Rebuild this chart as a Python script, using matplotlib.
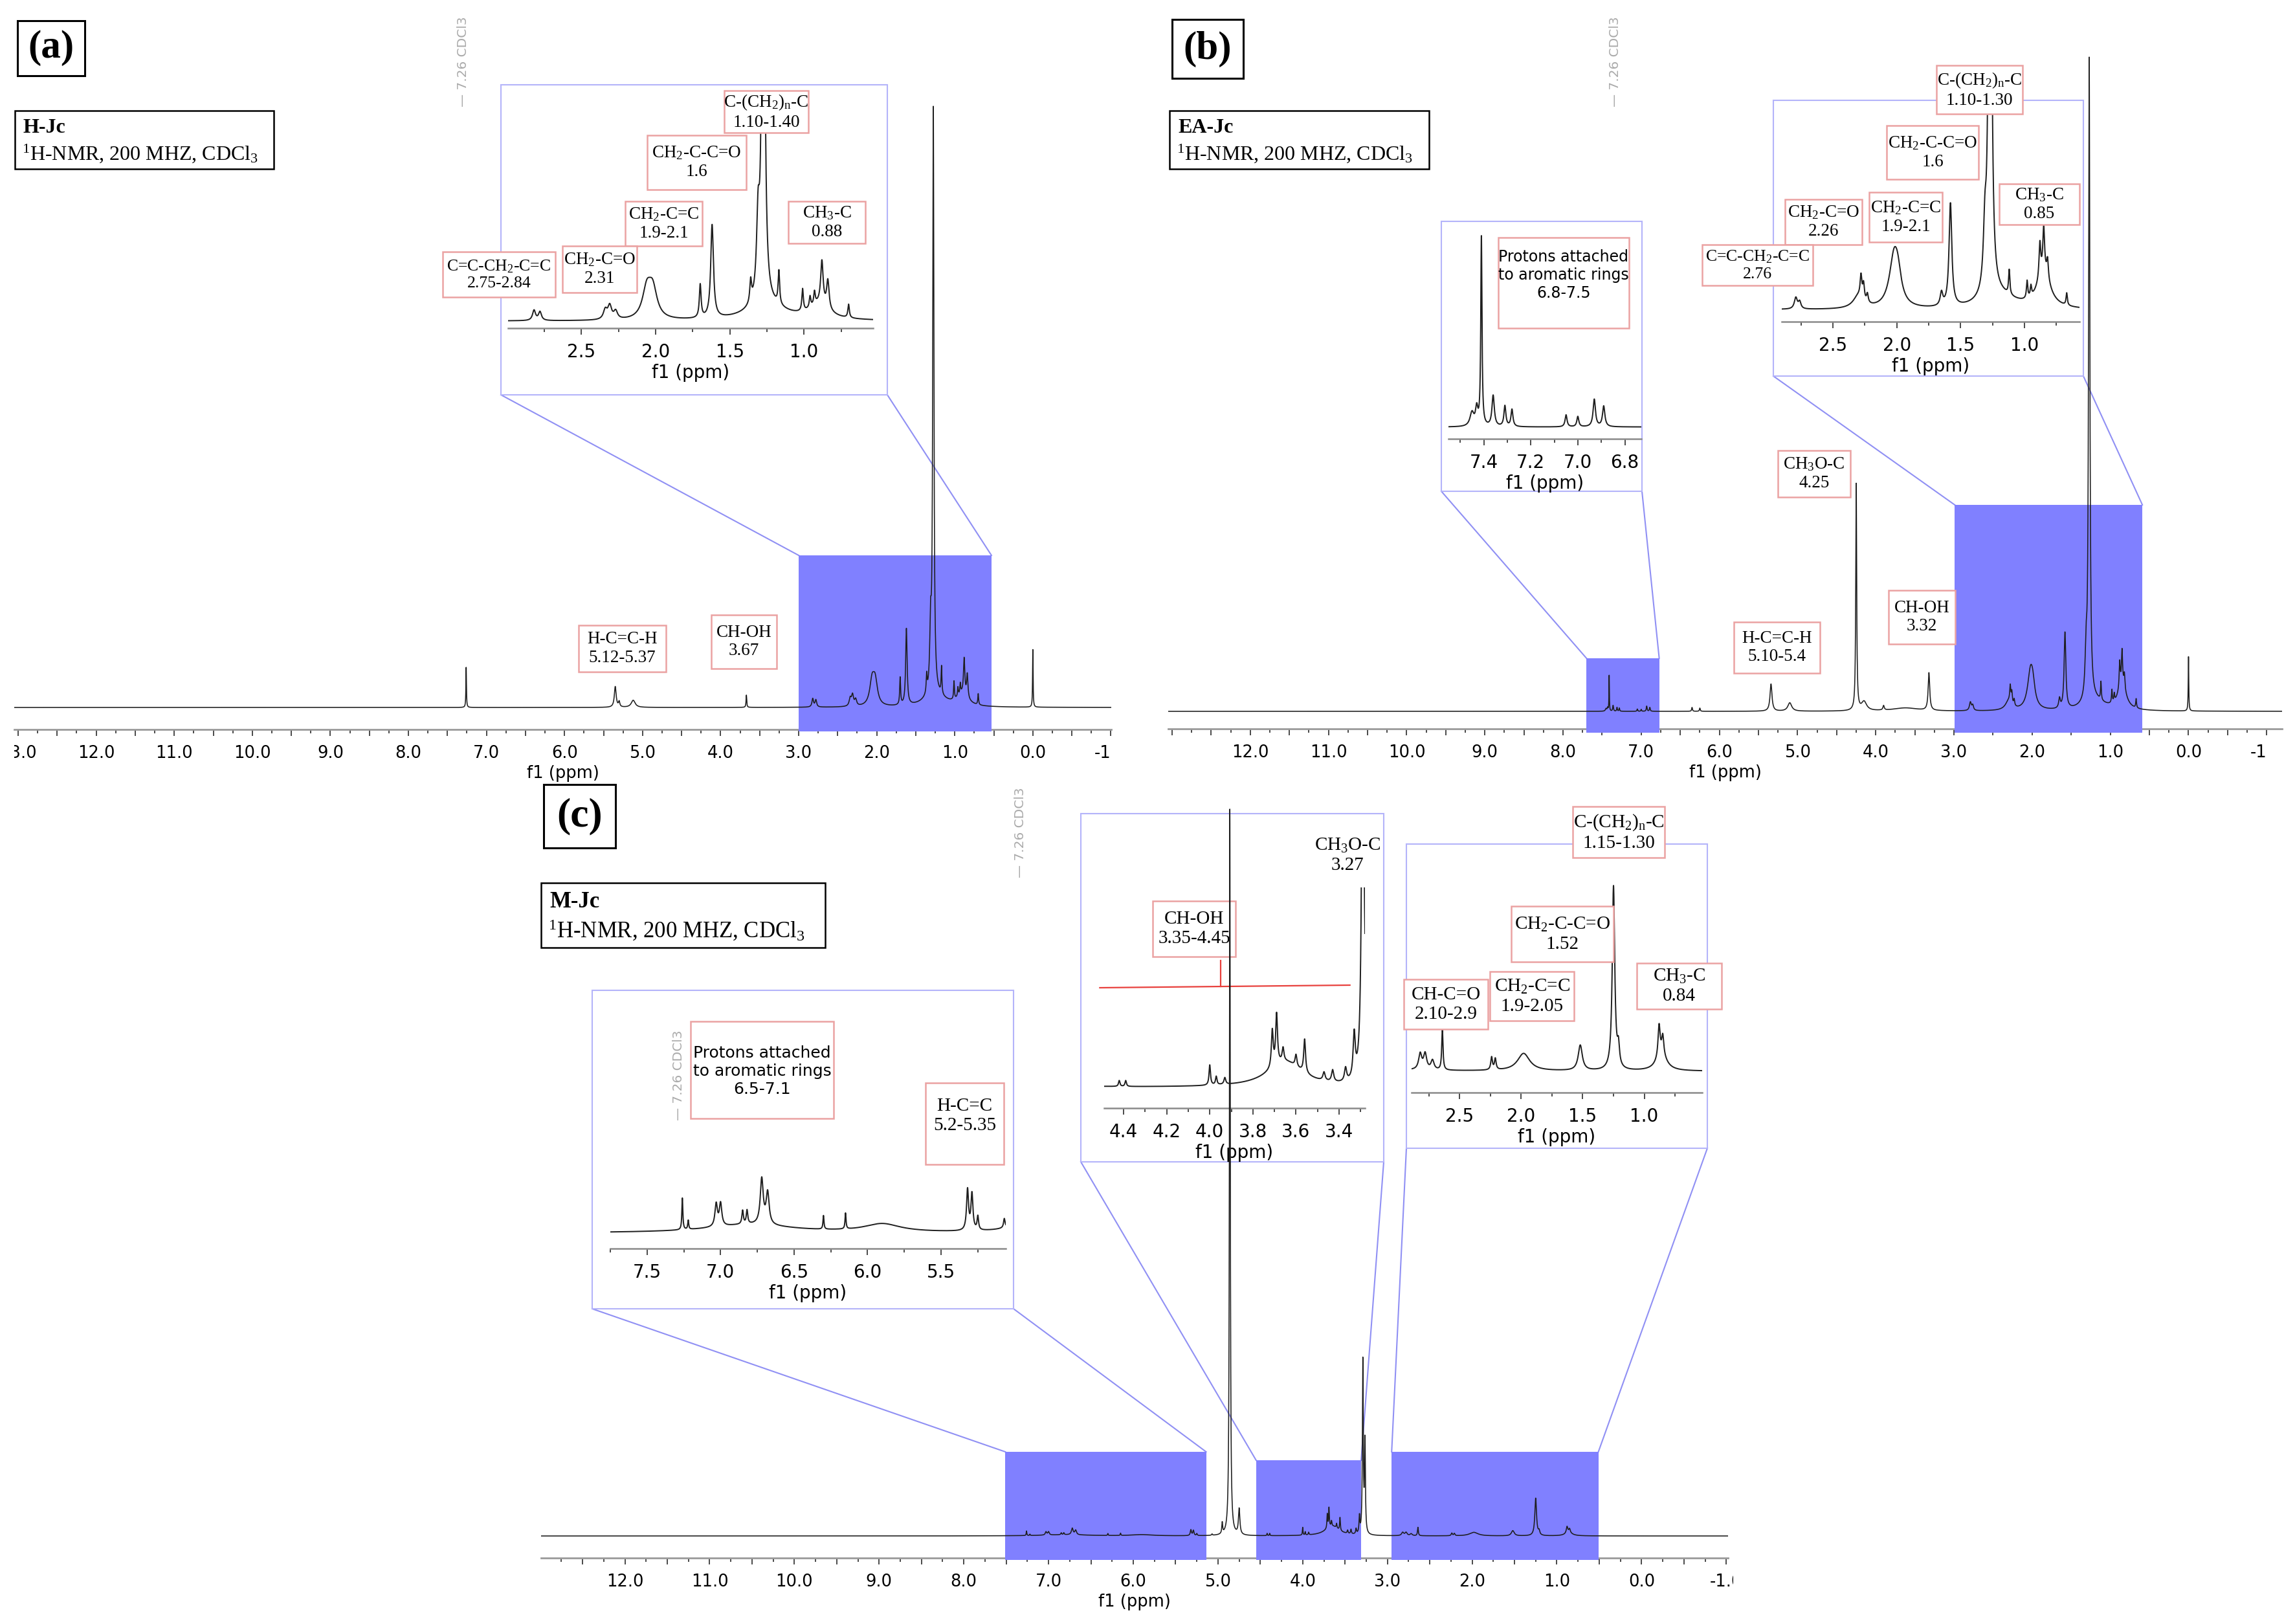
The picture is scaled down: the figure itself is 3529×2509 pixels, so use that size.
import numpy as np
import matplotlib.pyplot as plt
from matplotlib.patches import Rectangle
from matplotlib.lines import Line2D
from matplotlib.ticker import MultipleLocator, FuncFormatter
from matplotlib.transforms import Bbox, TransformedBbox, blended_transform_factory

plt.rcParams['mathtext.fontset'] = 'custom'
plt.rcParams['mathtext.rm'] = 'Liberation Serif'
plt.rcParams['mathtext.it'] = 'Liberation Serif:italic'
plt.rcParams['mathtext.bf'] = 'Liberation Serif:bold'

W, H = 3530, 2509
fig = plt.figure(figsize=(W / 100, H / 100), dpi=100)

SERIF = 'Liberation Serif'
SANS = 'DejaVu Sans'
LINE = '#1e1e1e'
HILITE = '#8080ff'
FRAME = '#b4b4fa'
LINK = '#9090f4'
LABEL_EDGE = '#eba2a2'
GREY = '#ababab'

# ---------------- data ----------------
# peaks: centre (ppm), intensity (a.u.), half width (ppm)

# (a) H-Jc
a_ppm = [7.26, 5.35, 5.30, 5.12, 3.67, 2.82, 2.78, 2.34, 2.31, 2.27, 2.06, 2.02,
         1.70, 1.62, 1.36, 1.31, 1.275, 1.25, 1.17, 1.01, 0.96, 0.93, 0.88, 0.84,
         0.90, 0.70, 0.00]
a_height = [62, 32, 8, 11, 19, 13, 11, 12, 17, 10, 36, 36,
            42, 118, 28, 95, 900, 18, 42, 28, 14, 16, 55, 36,
            18, 17, 89]
a_width = [0.004, 0.014, 0.010, 0.030, 0.005, 0.012, 0.012, 0.015, 0.015, 0.015, 0.035, 0.035,
           0.007, 0.011, 0.007, 0.012, 0.009, 0.150, 0.006, 0.006, 0.006, 0.006, 0.010, 0.010,
           0.080, 0.006, 0.004]

# (b) EA-Jc
b_ppm = [7.45, 7.43, 7.41, 7.36, 7.31, 7.28, 7.05, 7.00, 6.93, 6.89, 6.35, 6.25,
         5.34, 5.10, 4.25, 4.15, 3.90, 3.62, 3.32, 2.79, 2.76, 2.30, 2.28, 2.26,
         2.23, 2.02, 1.99, 1.65, 1.58, 1.31, 1.27, 1.20, 1.12, 0.98, 0.95, 0.88,
         0.85, 0.85, 0.82, 0.67, 0.00]
b_height = [4, 5, 55, 9, 6, 5, 3.5, 3, 8, 6, 6, 5,
            42, 13, 350, 14, 7, 5, 58, 13, 8, 14, 25, 18,
            10, 60, 20, 15, 118, 65, 990, 15, 28, 20, 12, 40,
            50, 40, 22, 14, 84]
b_width = [0.010, 0.006, 0.003, 0.006, 0.005, 0.005, 0.005, 0.005, 0.006, 0.006, 0.006, 0.006,
           0.015, 0.030, 0.007, 0.040, 0.010, 0.200, 0.012, 0.014, 0.012, 0.050, 0.008, 0.008,
           0.008, 0.045, 0.030, 0.012, 0.013, 0.014, 0.010, 0.150, 0.006, 0.006, 0.006, 0.008,
           0.008, 0.060, 0.008, 0.006, 0.004]

# (c) M-Jc
c_ppm = [7.26, 7.22, 7.03, 7.00, 6.85, 6.82, 6.72, 6.68, 6.80, 6.30, 6.15, 5.90,
         5.32, 5.29, 5.25, 5.07, 4.95, 4.86, 4.75, 4.42, 4.39, 4.00, 3.97, 3.93,
         3.65, 3.71, 3.69, 3.66, 3.60, 3.56, 3.47, 3.43, 3.37, 3.33, 3.29, 3.265,
         2.82, 2.78, 2.72, 2.64, 2.24, 2.21, 1.98, 1.52, 1.25, 1.21, 0.88, 0.85, 0.86]
c_height = [7, 2, 5, 5, 3, 3, 10, 7, 1.8, 3, 3.5, 1.8,
            9, 8, 3, 2, 17, 1123, 40, 3.5, 3.5, 12, 5, 4,
            15, 22, 30, 8, 7, 20, 5, 7, 8, 26, 267, 140,
            5, 5, 3, 13, 4, 3.5, 5.5, 8, 58, 6, 10, 6, 5]
c_width = [0.004, 0.004, 0.010, 0.010, 0.006, 0.006, 0.012, 0.012, 0.350, 0.004, 0.004, 0.150,
           0.008, 0.008, 0.006, 0.006, 0.006, 0.006, 0.010, 0.004, 0.004, 0.004, 0.004, 0.005,
           0.100, 0.005, 0.005, 0.005, 0.005, 0.005, 0.006, 0.006, 0.006, 0.006, 0.006, 0.006,
           0.015, 0.015, 0.015, 0.006, 0.008, 0.008, 0.060, 0.020, 0.012, 0.010, 0.010, 0.010, 0.050]

# expanded ranges (highlighted on the full spectrum) and inset windows
a_zoom = [(3.00, 0.53)]
a_inset = [(2.995, 0.535)]
b_zoom = [(7.70, 6.77), (2.99, 0.59)]
b_inset = [(7.55, 6.73), (2.90, 0.57)]
c_zoom = [(7.51, 5.14), (4.55, 3.31), (2.95, 0.51)]
c_inset = [(7.75, 5.06), (4.49, 3.28), (2.89, 0.53)]
c_integral = (4.51, 3.35)


def lorentz_sum(x, ppm, height, width):
    p = np.asarray(ppm, float)[:, None]
    h = np.asarray(height, float)[:, None]
    w = np.asarray(width, float)[:, None]
    return (h * w ** 2 / ((x[None, :] - p) ** 2 + w ** 2)).sum(axis=0)


def fx(px):
    return px / W


def fy(py):
    return 1 - py / H


def add_px_axes(x0, y0, x1, y1, z):
    ax = fig.add_axes([x0 / W, 1 - y1 / H, (x1 - x0) / W, (y1 - y0) / H], zorder=z)
    ax.patch.set_visible(False)
    for s in ('left', 'right', 'top'):
        ax.spines[s].set_visible(False)
    ax.set_yticks([])
    return ax


def style_x(ax, major, minor, size, every=None, spine_c='#9a9a9a', spine_w=2.0,
            pad=10.5, labelpad=3.5):
    ax.spines['bottom'].set_color(spine_c)
    ax.spines['bottom'].set_linewidth(spine_w)
    ax.xaxis.set_major_locator(MultipleLocator(major))
    ax.xaxis.set_minor_locator(MultipleLocator(minor))
    if every:
        ax.xaxis.set_major_formatter(FuncFormatter(
            lambda v, p: f'{v:.1f}' if abs(v / every - round(v / every)) < 1e-6 else ''))
    else:
        ax.xaxis.set_major_formatter(FuncFormatter(lambda v, p: f'{v:.1f}'))
    ax.tick_params(axis='x', which='major', direction='out', length=7, width=1.4,
                   color='#4a4a4a', labelsize=size, pad=pad)
    ax.tick_params(axis='x', which='minor', direction='out', length=4.3, width=1.4,
                   color='#4a4a4a')
    for t in ax.get_xticklabels():
        t.set_family(SANS)
    ax.set_xlabel('f1 (ppm)', fontsize=size, family=SANS, labelpad=labelpad)


def clip_labels(ax, left, right):
    box = TransformedBbox(Bbox.from_extents(left / W, 0, right / W, 1), fig.transFigure)
    for t in ax.xaxis.get_major_ticks():
        t.label1.set_clip_box(box)
        t.label1.set_clip_on(True)


def main_panel(x0, ppp, xlim, top, spine, base, ppm, height, width, clip, z=3):
    x1 = x0 + (xlim[0] - xlim[1]) * ppp
    ax = add_px_axes(x0, top, x1, spine, z)
    x = np.linspace(xlim[0], xlim[1], 40000)
    ax.plot(x, lorentz_sum(x, ppm, height, width), color=LINE, lw=1.15, zorder=3)
    ax.set_xlim(*xlim)
    ax.set_ylim(-(spine - base), base - top)
    style_x(ax, 0.5, 0.25, 18.5, every=1.0)
    clip_labels(ax, *clip)
    return ax


def highlight(ax, rng, top, bottom):
    tr = blended_transform_factory(ax.transData, fig.transFigure)
    hi, lo = rng
    ax.add_patch(Rectangle((lo, fy(bottom)), hi - lo, fy(top) - fy(bottom), transform=tr,
                           fc=HILITE, ec='none', zorder=2.6, clip_on=False))
    xl = ax.transData.transform([[hi, 0]])[0, 0]
    xr = ax.transData.transform([[lo, 0]])[0, 0]
    return xl, xr


def inset(frame, box, xlim, base, scale, major, minor, ppm, height, width):
    fx0, fy0, fx1, fy1 = frame
    fig.add_artist(Rectangle((fx(fx0), fy(fy1)), fx(fx1) - fx(fx0), fy(fy0) - fy(fy1),
                             transform=fig.transFigure, fc='white', ec=FRAME, lw=1.5, zorder=1))
    x0, top, x1, spine = box
    ax = add_px_axes(x0, top, x1, spine, 2)
    x = np.linspace(xlim[0], xlim[1], 8000)
    ax.plot(x, lorentz_sum(x, ppm, height, width), color=LINE, lw=1.4)
    ax.set_xlim(*xlim)
    ax.set_ylim(-(spine - base) / scale, (base - top) / scale)
    style_x(ax, major, minor, 20, spine_c='#8a8a8a', spine_w=1.8, pad=9.5, labelpad=3.0)
    return ax


def connect(frame, xl, xr, top):
    fx0, fy0, fx1, fy1 = frame
    for a, b in ((fx0, xl), (fx1, xr)):
        fig.add_artist(Line2D([fx(a), fx(b)], [fy(fy1), fy(top)], transform=fig.transFigure,
                              color=LINK, lw=1.5, zorder=0.5))


def label(x0, y0, x1, y1, text, size, family=SERIF, dy=0, boxed=True):
    if boxed:
        fig.add_artist(Rectangle((fx(x0), fy(y1)), fx(x1) - fx(x0), fy(y0) - fy(y1),
                                 transform=fig.transFigure, fc='white', ec=LABEL_EDGE,
                                 lw=1.8, zorder=4))
    fig.text(fx((x0 + x1) / 2), fy((y0 + y1) / 2 + dy), text, ha='center', va='center',
             fontsize=size, family=family, zorder=4.5, linespacing=1.2)


def panel_tag(x0, y0, x1, y1, tag, size):
    fig.add_artist(Rectangle((fx(x0), fy(y1)), fx(x1) - fx(x0), fy(y0) - fy(y1),
                             transform=fig.transFigure, fc='white', ec='black', lw=2.2, zorder=4))
    fig.text(fx((x0 + x1) / 2), fy((y0 + y1) / 2), tag, ha='center', va='center',
             fontsize=size, family=SERIF, weight='bold', zorder=4.5)


def sample_box(x0, y0, x1, y1, name, size):
    fig.add_artist(Rectangle((fx(x0), fy(y1)), fx(x1) - fx(x0), fy(y0) - fy(y1),
                             transform=fig.transFigure, fc='white', ec='black', lw=1.8, zorder=4))
    h = y1 - y0
    fig.text(fx(x0 + 13), fy(y0 + 0.29 * h), name, ha='left', va='center', fontsize=size,
             family=SERIF, weight='bold', zorder=4.5)
    fig.text(fx(x0 + 11), fy(y0 + 0.74 * h), '$^1$H-NMR, 200 MHZ, CDCl$_3$', ha='left',
             va='center', fontsize=size, family=SERIF, zorder=4.5)


def solvent(x, yc, size=14.5):
    fig.text(fx(x), fy(yc), '\u2014 7.26 CDCl3', rotation=90, ha='center', va='center',
             fontsize=size, family=SANS, color=GREY, zorder=4.5)


LS = 19.5   # label size for (a) and (b)
LC = 21     # label size for (c)

# ---------------- (a) ----------------
axa = main_panel(22, 120.6, (13.05, -1.005), 60, 1127, 1093, a_ppm, a_height, a_width, (22, 1718))
fr = (774, 131, 1371, 610)
inset(fr, (785, 140, 1349, 507), a_inset[0], 496, 1.22, 0.5, 0.25, a_ppm, a_height, a_width)
xl, xr = highlight(axa, a_zoom[0], 858, 1130)
connect(fr, xl, xr, 858)

panel_tag(27, 32, 131, 117, '(a)', 44)
sample_box(23, 171, 423, 261, 'H-Jc', 23)
solvent(716, 95)
label(1119, 140, 1249, 205, 'C-(CH$_2$)$_\\mathrm{n}$-C\n1.10-1.40', LS)
label(1000, 209, 1153, 293, 'CH$_2$-C-C=O\n1.6', LS)
label(966, 311, 1085, 380, 'CH$_2$-C=C\n1.9-2.1', LS)
label(1218, 311, 1337, 376, 'CH$_3$-C\n0.88', LS)
label(869, 380, 984, 452, 'CH$_2$-C=O\n2.31', LS)
label(684, 389, 858, 459, 'C=C-CH$_2$-C=C\n2.75-2.84', 18.5)
label(894, 966, 1029, 1038, 'H-C=C-H\n5.12-5.37', LS)
label(1099, 950, 1200, 1033, 'CH-OH\n3.67', LS)

# ---------------- (b) ----------------
axb = main_panel(1805, 120.8, (13.05, -1.2), 60, 1126, 1099, b_ppm, b_height, b_width, (1845, 3503))
fr1 = (2227, 342, 2537, 759)
inset(fr1, (2238, 345, 2536, 678), b_inset[0], 660, 5.3, 0.2, 0.1, b_ppm, b_height, b_width)
xl, xr = highlight(axb, b_zoom[0], 1017, 1132)
connect(fr1, xl, xr, 1017)
fr2 = (2740, 155, 3219, 581)
inset(fr2, (2753, 160, 3213, 497), b_inset[1], 479, 1.35, 0.5, 0.25, b_ppm, b_height, b_width)
xl, xr = highlight(axb, b_zoom[1], 780, 1132)
connect(fr2, xl, xr, 780)

panel_tag(1811, 30, 1921, 121, '(b)', 44)
sample_box(1807, 171, 2208, 261, 'EA-Jc', 23)
solvent(2496, 95)
label(2315, 367, 2517, 507, 'Protons attached\nto aromatic rings\n6.8-7.5', 17, family=SANS, dy=-12)
label(2992, 101, 3125, 176, 'C-(CH$_2$)$_\\mathrm{n}$-C\n1.10-1.30', LS)
label(2915, 194, 3057, 277, 'CH$_2$-C-C=O\n1.6', LS)
label(3089, 284, 3213, 347, 'CH$_3$-C\n0.85', LS)
label(2888, 297, 3001, 374, 'CH$_2$-C=C\n1.9-2.1', LS)
label(2758, 308, 2877, 378, 'CH$_2$-C=O\n2.26', LS)
label(2630, 378, 2801, 441, 'C=C-CH$_2$-C=C\n2.76', 18.5)
label(2747, 696, 2859, 768, 'CH$_3$O-C\n4.25', LS)
label(2918, 912, 3021, 995, 'CH-OH\n3.32', LS)
label(2679, 961, 2812, 1040, 'H-C=C-H\n5.10-5.4', LS)

# ---------------- (c) ----------------
axc = main_panel(836, 130.9, (12.99, -1.02), 1230, 2407, 2373, c_ppm, c_height, c_width, (870, 2678), z=6)
frames_c = [(915, 1530, 1566, 2022), (1670, 1257, 2138, 1795), (2173, 1304, 2638, 1774)]
boxes_c = [(943, 1545, 1554, 1929), (1706, 1371, 2109, 1712), (2181, 1310, 2630, 1688)]
bases_c = [1905, 1680, 1655]
scales_c = [7.0, 2.6, 4.9]
steps_c = [(0.5, 0.25), (0.2, 0.1), (0.5, 0.25)]
tops_c = [2243, 2256, 2243]
insets_c = []
for i in range(3):
    insets_c.append(inset(frames_c[i], boxes_c[i], c_inset[i], bases_c[i], scales_c[i],
                          steps_c[i][0], steps_c[i][1], c_ppm, c_height, c_width))
    xl, xr = highlight(axc, c_zoom[i], tops_c[i], 2410)
    connect(frames_c[i], xl, xr, tops_c[i])

# integration mark inside the CH-OH window
ax2 = insets_c[1]
tr = blended_transform_factory(ax2.transData, fig.transFigure)
ax2.add_line(Line2D(list(c_integral), [fy(1526), fy(1522)], transform=tr, color='#e8403c',
                    lw=1.6, clip_on=False))
ax2.add_line(Line2D([3.95, 3.95], [fy(1484), fy(1524)], transform=tr, color='#e8403c',
                    lw=1.6, clip_on=False))
ax2.set_xlim(*c_inset[1])

panel_tag(840, 1212, 951, 1310, '(c)', 46)
sample_box(836, 1364, 1275, 1464, 'M-Jc', 25)
solvent(1577, 1286)
solvent(1048, 1661)
label(1067, 1578, 1288, 1728, 'Protons attached\nto aromatic rings\n6.5-7.1', 18, family=SANS, dy=2)
label(1430, 1673, 1551, 1799, 'H-C=C\n5.2-5.35', LC, dy=-12)
label(1781, 1392, 1909, 1478, 'CH-OH\n3.35-4.45', LC)
label(2030, 1290, 2134, 1352, 'CH$_3$O-C\n3.27', LC, boxed=False)
label(2430, 1246, 2572, 1325, 'C-(CH$_2$)$_\\mathrm{n}$-C\n1.15-1.30', LC)
label(2335, 1400, 2493, 1486, 'CH$_2$-C-C=O\n1.52', LC)
label(2302, 1501, 2432, 1577, 'CH$_2$-C=C\n1.9-2.05', LC)
label(2169, 1513, 2299, 1590, 'CH-C=O\n2.10-2.9', LC)
label(2529, 1488, 2660, 1559, 'CH$_3$-C\n0.84', LC)

fig.savefig('out.png', dpi=100, facecolor='white')
